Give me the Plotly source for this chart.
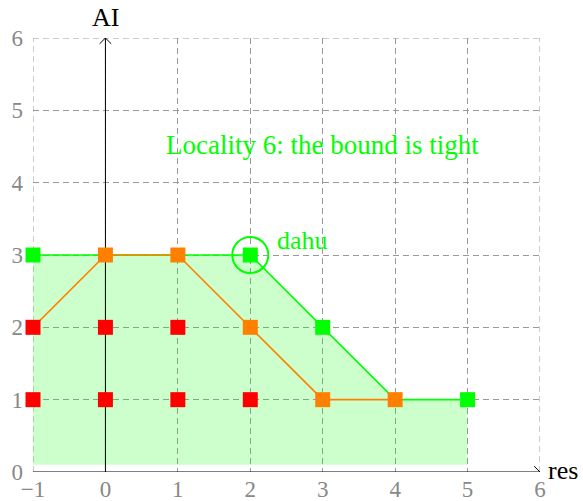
import plotly.graph_objects as go

# Feasible region (upper envelope) and the two staircase curves
region_x = [-1, 2, 3, 4, 5]
region_y = [3, 3, 2, 1, 1]
region_floor = 0.1

green_x = [-1, 0, 1, 2, 3, 4, 5]
green_y = [3, 3, 3, 3, 2, 1, 1]
orange_x = [-1, 0, 1, 2, 3, 4]
orange_y = [2, 3, 3, 2, 1, 1]

green_pts_x = [-1, 2, 3, 5]
green_pts_y = [3, 3, 2, 1]
orange_pts_x = [0, 1, 2, 3, 4]
orange_pts_y = [3, 3, 2, 1, 1]
red_pts_x = [-1, 0, 1, -1, 0, 1, 2]
red_pts_y = [2, 2, 2, 1, 1, 1, 1]

dahu_x, dahu_y = 2, 3

x_ticks = [-1, 0, 1, 2, 3, 4, 5, 6]
x_tick_text = ["−1", "0", "1", "2", "3", "4", "5", "6"]
y_ticks = [0, 1, 2, 3, 4, 5, 6]
x_range = [-1, 6]
y_range = [0, 6]

GREEN = "#00ff00"
ORANGE = "#ff8000"
RED = "#ff0000"
GRID = "#999999"
SERIF = "Liberation Serif, Times New Roman, serif"

fig = go.Figure()

# shaded region under the green envelope
poly_x = [region_x[0]] + region_x + [region_x[-1], region_x[0]]
poly_y = [region_floor] + region_y + [region_floor, region_floor]
fig.add_trace(go.Scatter(x=poly_x, y=poly_y, mode="lines", fill="toself",
                         fillcolor="rgba(0,255,0,0.2)", line=dict(width=0),
                         hoverinfo="skip", showlegend=False))

# dashed grid lines on the border of the plotting window
for xv in x_range:
    fig.add_shape(type="line", x0=xv, x1=xv, y0=y_range[0], y1=y_range[1], layer="below",
                  line=dict(color=GRID, width=1, dash="6px,4px"))
fig.add_shape(type="line", x0=x_range[0], x1=x_range[1], y0=y_range[1], y1=y_range[1],
              layer="below", line=dict(color=GRID, width=1, dash="6px,4px"))

# axes with arrow heads
axis_line = dict(color="black", width=1)
fig.add_trace(go.Scatter(x=[-1, 6], y=[0, 0], mode="lines", line=axis_line,
                         showlegend=False, cliponaxis=False, hoverinfo="skip"))
fig.add_trace(go.Scatter(x=[0, 0], y=[0, 6], mode="lines", line=axis_line,
                         showlegend=False, cliponaxis=False, hoverinfo="skip"))
fig.add_trace(go.Scatter(x=[5.92, 6, 5.92], y=[0.08, 0, -0.08], mode="lines", line=axis_line,
                         showlegend=False, cliponaxis=False, hoverinfo="skip"))
fig.add_trace(go.Scatter(x=[-0.08, 0, 0.08], y=[5.92, 6, 5.92], mode="lines", line=axis_line,
                         showlegend=False, cliponaxis=False, hoverinfo="skip"))

# curves
fig.add_trace(go.Scatter(x=green_x, y=green_y, mode="lines",
                         line=dict(color=GREEN, width=1.6), showlegend=False, cliponaxis=False))
fig.add_trace(go.Scatter(x=orange_x, y=orange_y, mode="lines",
                         line=dict(color=ORANGE, width=1.6), showlegend=False, cliponaxis=False))

# points
marker_common = dict(symbol="square", size=15, line=dict(width=0))
fig.add_trace(go.Scatter(x=red_pts_x, y=red_pts_y, mode="markers",
                         marker=dict(color=RED, **marker_common), showlegend=False, cliponaxis=False))
fig.add_trace(go.Scatter(x=orange_pts_x, y=orange_pts_y, mode="markers",
                         marker=dict(color=ORANGE, **marker_common), showlegend=False, cliponaxis=False))
fig.add_trace(go.Scatter(x=green_pts_x, y=green_pts_y, mode="markers",
                         marker=dict(color=GREEN, **marker_common), showlegend=False, cliponaxis=False))

# highlighted point
fig.add_trace(go.Scatter(x=[dahu_x], y=[dahu_y], mode="markers",
                         marker=dict(symbol="circle-open", size=36, color=GREEN,
                                     line=dict(width=2, color=GREEN)),
                         showlegend=False, cliponaxis=False))

fig.add_annotation(x=2.34, y=3.2, text="dahu", showarrow=False, xanchor="left",
                   font=dict(family=SERIF, size=26, color=GREEN))
fig.add_annotation(x=3, y=4.52, text="Locality 6: the bound is tight", showarrow=False,
                   font=dict(family=SERIF, size=27, color=GREEN))
fig.add_annotation(xref="paper", x=1, xshift=6, y=0, yshift=2, text="res", showarrow=False,
                   xanchor="left", font=dict(family=SERIF, size=26, color="black"))
fig.add_annotation(x=0, yref="paper", y=1, yshift=4, text="AI", showarrow=False,
                   yanchor="bottom", font=dict(family=SERIF, size=26, color="black"))

axis_common = dict(showgrid=True, gridcolor=GRID, gridwidth=1, griddash="6px,4px",
                   zeroline=False, showline=False, ticks="", automargin=False,
                   tickfont=dict(family=SERIF, size=23, color="#888888"))

fig.update_xaxes(range=x_range, tickvals=x_ticks, ticktext=x_tick_text,
                 ticklabelstandoff=1, **axis_common)
fig.update_yaxes(range=y_range, tickvals=y_ticks, ticklabelstandoff=9, **axis_common)

fig.update_layout(width=583, height=501, margin=dict(l=33, r=43, t=38, b=29),
                  plot_bgcolor="white", paper_bgcolor="white", showlegend=False)

fig.write_html("out.html")
